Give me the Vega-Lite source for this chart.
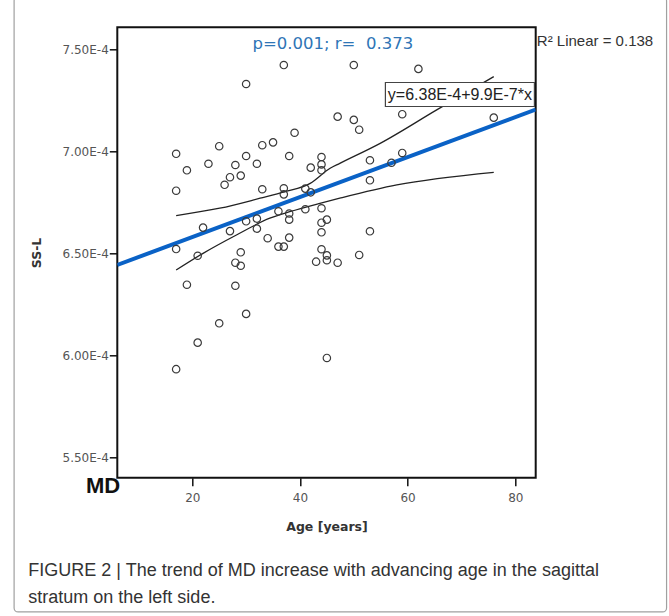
{
  "$schema": "https://vega.github.io/schema/vega-lite/v6.json",
  "autosize": "none",
  "width": 418.4,
  "height": 450.4,
  "padding": {"left": 117.3, "top": 27.3, "right": 133.3, "bottom": 138.3},
  "background": "white",
  "config": {
    "view": {"stroke": "#111111", "strokeWidth": 2},
    "axis": {
      "grid": false,
      "domain": false,
      "tickColor": "#111111",
      "tickWidth": 1.5,
      "tickSize": 8,
      "labelFont": "DejaVu Sans",
      "labelFontSize": 12,
      "labelColor": "#555555",
      "titleFont": "DejaVu Sans",
      "titleFontSize": 12.5,
      "titleFontWeight": "bold",
      "titleColor": "#333333"
    }
  },
  "title": {
    "text": ["FIGURE 2 | The trend of MD increase with advancing age in the sagittal", "stratum on the left side."],
    "orient": "bottom",
    "anchor": "start",
    "frame": "group",
    "dx": -89,
    "offset": -51,
    "font": "Liberation Sans",
    "fontSize": 18,
    "fontWeight": "normal",
    "color": "#333333",
    "lineHeight": 27
  },
  "datasets": {
    "points": [
      {"age": 37, "ss": 0.0007423}, {"age": 50, "ss": 0.0007423}, {"age": 30, "ss": 0.0007330},
      {"age": 47, "ss": 0.0007170}, {"age": 50, "ss": 0.0007154}, {"age": 51, "ss": 0.0007106},
      {"age": 39, "ss": 0.0007091}, {"age": 17, "ss": 0.0006988}, {"age": 25, "ss": 0.0007025},
      {"age": 35, "ss": 0.0007044}, {"age": 33, "ss": 0.0007030}, {"age": 19, "ss": 0.0006907},
      {"age": 23, "ss": 0.0006939}, {"age": 28, "ss": 0.0006933}, {"age": 30, "ss": 0.0006977},
      {"age": 32, "ss": 0.0006939}, {"age": 38, "ss": 0.0006977}, {"age": 44, "ss": 0.0006972},
      {"age": 44, "ss": 0.0006936}, {"age": 44, "ss": 0.0006907}, {"age": 42, "ss": 0.0006920},
      {"age": 53, "ss": 0.0006956}, {"age": 57, "ss": 0.0006944}, {"age": 27, "ss": 0.0006873},
      {"age": 29, "ss": 0.0006881}, {"age": 26, "ss": 0.0006836}, {"age": 17, "ss": 0.0006807},
      {"age": 33, "ss": 0.0006814}, {"age": 37, "ss": 0.0006819}, {"age": 37, "ss": 0.0006789},
      {"age": 41, "ss": 0.0006817}, {"age": 42, "ss": 0.0006799}, {"age": 53, "ss": 0.0006858},
      {"age": 36, "ss": 0.0006706}, {"age": 38, "ss": 0.0006695}, {"age": 41, "ss": 0.0006716},
      {"age": 44, "ss": 0.0006721}, {"age": 45, "ss": 0.0006665}, {"age": 59, "ss": 0.0007182},
      {"age": 59, "ss": 0.0006992}, {"age": 62, "ss": 0.0007404}, {"age": 76, "ss": 0.0007165},
      {"age": 22, "ss": 0.0006626}, {"age": 17, "ss": 0.0006521}, {"age": 27, "ss": 0.0006609},
      {"age": 30, "ss": 0.0006657}, {"age": 32, "ss": 0.0006670}, {"age": 32, "ss": 0.0006621},
      {"age": 38, "ss": 0.0006665}, {"age": 44, "ss": 0.0006650}, {"age": 44, "ss": 0.0006603},
      {"age": 53, "ss": 0.0006608}, {"age": 34, "ss": 0.0006574}, {"age": 38, "ss": 0.0006577},
      {"age": 36, "ss": 0.0006533}, {"age": 37, "ss": 0.0006533}, {"age": 21, "ss": 0.0006488},
      {"age": 29, "ss": 0.0006505}, {"age": 28, "ss": 0.0006454}, {"age": 29, "ss": 0.0006439},
      {"age": 44, "ss": 0.0006520}, {"age": 45, "ss": 0.0006490}, {"age": 45, "ss": 0.0006466},
      {"age": 43, "ss": 0.0006459}, {"age": 47, "ss": 0.0006454}, {"age": 51, "ss": 0.0006492},
      {"age": 19, "ss": 0.0006346}, {"age": 28, "ss": 0.0006341}, {"age": 30, "ss": 0.0006203},
      {"age": 25, "ss": 0.0006157}, {"age": 21, "ss": 0.0006062}, {"age": 17, "ss": 0.0005932},
      {"age": 45, "ss": 0.0005987}
    ],
    "fit": [
      {"age": 6.07, "ss": 0.0006443},
      {"age": 83.79, "ss": 0.0007205}
    ],
    "ci": [
      {"bound": "upper", "age": 17, "ss": 0.0006685},
      {"bound": "upper", "age": 25.1, "ss": 0.0006721},
      {"bound": "upper", "age": 32.6, "ss": 0.0006770},
      {"bound": "upper", "age": 37.2, "ss": 0.0006802},
      {"bound": "upper", "age": 41.9, "ss": 0.0006843},
      {"bound": "upper", "age": 45.6, "ss": 0.0006917},
      {"bound": "upper", "age": 47.4, "ss": 0.0006941},
      {"bound": "upper", "age": 54.9, "ss": 0.0007039},
      {"bound": "upper", "age": 65.4, "ss": 0.0007203},
      {"bound": "upper", "age": 76, "ss": 0.0007366},
      {"bound": "lower", "age": 17, "ss": 0.0006418},
      {"bound": "lower", "age": 22, "ss": 0.0006500},
      {"bound": "lower", "age": 28.2, "ss": 0.0006590},
      {"bound": "lower", "age": 34.4, "ss": 0.0006672},
      {"bound": "lower", "age": 38.1, "ss": 0.0006704},
      {"bound": "lower", "age": 43.7, "ss": 0.0006745},
      {"bound": "lower", "age": 47.4, "ss": 0.0006770},
      {"bound": "lower", "age": 58, "ss": 0.0006835},
      {"bound": "lower", "age": 76, "ss": 0.0006897}
    ],
    "notes": [
      {"label": "p=0.001; r=\u00a0 0.373", "age": 46.1, "ss": 0.0007502}
    ],
    "one": [{}]
  },
  "layer": [
    {
      "data": {"name": "one"},
      "mark": {"type": "rect", "fill": null, "stroke": "#a0a0a0", "strokeWidth": 1.2, "cornerRadius": 4, "clip": false},
      "encoding": {
        "x": {"datum": -13.1, "type": "quantitative"},
        "x2": {"datum": 108.1},
        "y": {"datum": 0.00077565, "type": "quantitative"},
        "y2": {"datum": 0.00047418}
      }
    },
    {
      "data": {"name": "fit"},
      "mark": {"type": "line", "color": "#0a62c6", "strokeWidth": 4, "clip": true},
      "encoding": {
        "x": {"field": "age", "type": "quantitative", "scale": {"domain": [6.07, 83.79], "nice": false, "zero": false},
          "axis": {"values": [20, 40, 60, 80], "title": "Age [years]", "labelPadding": 7, "titlePadding": 17}},
        "y": {"field": "ss", "type": "quantitative", "scale": {"domain": [0.000540, 0.0007608], "nice": false, "zero": false},
          "axis": {"values": [0.00055, 0.0006, 0.00065, 0.0007, 0.00075], "labelExpr": "format(datum.value*10000, '.2f') + 'E-4'", "title": "SS-L", "labelPadding": 1, "titlePadding": 19}}
      }
    },
    {
      "data": {"name": "ci"},
      "mark": {"type": "line", "color": "#222222", "strokeWidth": 1.3, "interpolate": "monotone"},
      "encoding": {
        "x": {"field": "age", "type": "quantitative"},
        "y": {"field": "ss", "type": "quantitative"},
        "detail": {"field": "bound"}
      }
    },
    {
      "data": {"name": "points"},
      "mark": {"type": "point", "shape": "circle", "filled": false, "size": 55, "stroke": "#3a3a3a", "strokeWidth": 1.2, "opacity": 1},
      "encoding": {
        "x": {"field": "age", "type": "quantitative"},
        "y": {"field": "ss", "type": "quantitative"}
      }
    },
    {
      "data": {"name": "one"},
      "mark": {"type": "rect", "fill": "white", "stroke": "#444444", "strokeWidth": 1.2, "clip": false},
      "encoding": {
        "x": {"datum": 55.87, "type": "quantitative"},
        "x2": {"datum": 83.55},
        "y": {"datum": 0.00073374, "type": "quantitative"},
        "y2": {"datum": 0.00072198}
      }
    },
    {
      "data": {"name": "one"},
      "mark": {"type": "text", "text": "y=6.38E-4+9.9E-7*x", "font": "Liberation Sans", "fontSize": 16, "color": "#222222", "align": "center", "baseline": "middle", "clip": false},
      "encoding": {
        "x": {"datum": 69.7, "type": "quantitative"},
        "y": {"datum": 0.0007276, "type": "quantitative"}
      }
    },
    {
      "data": {"name": "notes"},
      "mark": {"type": "text", "font": "DejaVu Sans", "fontSize": 16.5, "color": "#2e75b6", "align": "center", "baseline": "alphabetic"},
      "encoding": {
        "x": {"field": "age", "type": "quantitative"},
        "y": {"field": "ss", "type": "quantitative"},
        "text": {"field": "label"}
      }
    },
    {
      "data": {"name": "one"},
      "mark": {"type": "text", "text": "R² Linear = 0.138", "font": "Liberation Sans", "fontSize": 15, "color": "#333333", "align": "left", "baseline": "alphabetic", "clip": false},
      "encoding": {
        "x": {"datum": 84.0, "type": "quantitative"},
        "y": {"datum": 0.0007518, "type": "quantitative"}
      }
    },
    {
      "data": {"name": "one"},
      "mark": {"type": "text", "text": "MD", "font": "Liberation Sans", "fontSize": 22, "fontWeight": "bold", "color": "#111111", "align": "left", "baseline": "alphabetic", "clip": false},
      "encoding": {
        "x": {"datum": 0.26, "type": "quantitative"},
        "y": {"datum": 0.00053266, "type": "quantitative"}
      }
    }
  ]
}
